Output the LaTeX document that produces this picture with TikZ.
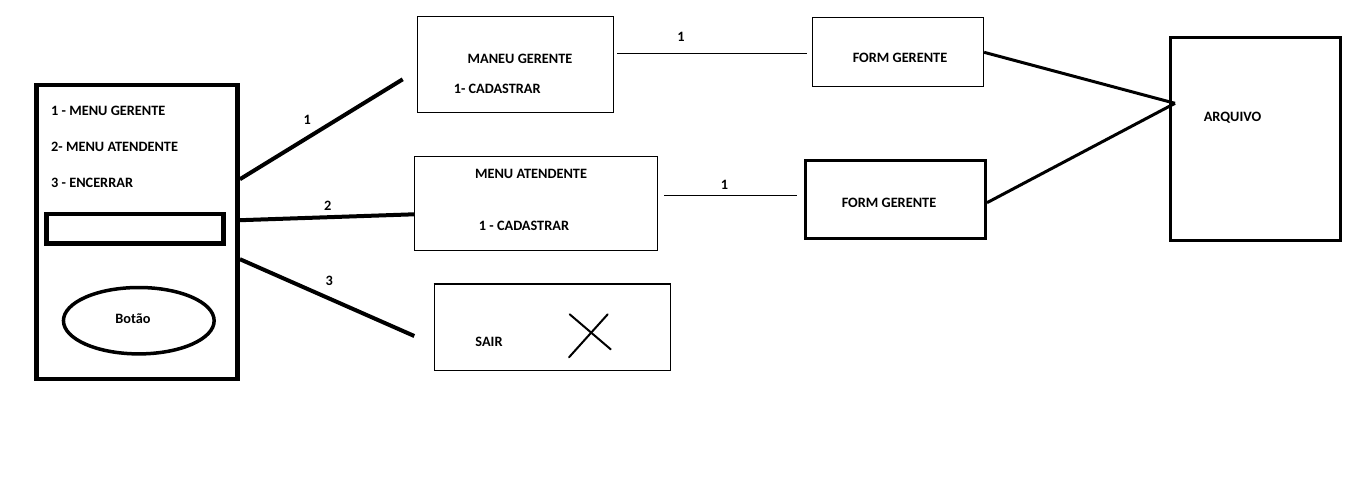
\documentclass[tikz,border=0pt]{standalone}
\usepackage{fontspec}
\setmainfont{Carlito}
\usetikzlibrary{shapes.geometric, positioning}

\begin{document}
\begin{tikzpicture}[x=1pt, y=-1pt,
    txt/.style={font=\fontsize{14.3}{16}\selectfont\bfseries, inner sep=0pt},
    thinbox/.style={draw, line width=1pt, inner sep=0pt},
    thickbox/.style={draw, line width=3pt, inner sep=0pt},
    heavybox/.style={draw, line width=4.5pt, inner sep=0pt},
    heavylink/.style={line width=4pt},
    link/.style={line width=3pt},
    thinlink/.style={line width=1pt}]

        % --- canvas ---
        \path[fill=white, use as bounding box] (0,0) rectangle (1346,490);

        % --- LEFT SIDE: THE SCREEN ---
        \node[heavybox, minimum width=201pt, minimum height=294pt] (tela) at (137.2,232.2) {};
        \node[txt, anchor=base west] (op1) at (51,115.5) {1 - MENU GERENTE};
        \node[txt, anchor=base west] (op2) at (51,151.3) {2- MENU ATENDENTE};
        \node[txt, anchor=base west] (op3) at (51,187) {3 - ENCERRAR};
        \node[heavybox, minimum width=177pt, minimum height=29.7pt] (entrada) at (135,228.6) {};
        \node[ellipse, draw, line width=3.5pt, minimum width=150.7pt, minimum height=66.4pt, inner sep=0pt] (botao) at (138.8,320.7) {};
        \node[txt, anchor=base] (botaotxt) at (133,323.3) {Botão};

        % --- MIDDLE: THE MENUS ---
        \node[thinbox, minimum width=196pt, minimum height=96pt] (gerente) at (515,64) {};
        \node[txt, anchor=base] (gerentetit) at (520,63.3) {MANEU GERENTE};
        \node[txt, anchor=base west] (gerentecad) at (453.6,93.3) {1- CADASTRAR};

        \node[thinbox, minimum width=242.5pt, minimum height=94pt] (atende) at (535.8,203) {};
        \node[txt, anchor=base] (atendetit) at (531,178.3) {MENU ATENDENTE};
        \node[txt, anchor=base] (atendecad) at (524,230) {1 - CADASTRAR};

        \node[thinbox, minimum width=236.7pt, minimum height=85.7pt] (sair) at (552.4,327.2) {};
        \draw[line width=2.7pt] (sair.north west) -- (sair.north east);
        \node[txt, anchor=base] (sairtxt) at (489,346) {SAIR};
        \draw[line width=2pt, line cap=round] (569.7,314.3) -- (610.7,349.3);
        \draw[line width=2pt, line cap=round] (607.7,314.3) -- (569,357.3);

        % --- FORMS ---
        \node[thinbox, minimum width=171.6pt, minimum height=68.7pt] (formger) at (897.8,52.3) {};
        \node[txt, anchor=base] (formgertxt) at (900,62.3) {FORM GERENTE};
        \node[thickbox, minimum width=179.8pt, minimum height=78.3pt] (formate) at (895.6,199.2) {};
        \node[txt, anchor=base] (formatetxt) at (889,207.3) {FORM GERENTE};

        % --- RIGHT SIDE: THE FILE ---
        \node[thickbox, minimum width=170.7pt, minimum height=203.4pt] (arquivo) at (1255.6,139) {};
        \node[txt, anchor=base] (arquivotxt) at (1232.5,121.7) {ARQUIVO};

        % free ends
        \coordinate (fim1) at (402.7,79.3);
        \coordinate (fim3) at (414.3,336);
        \coordinate (gerA) at (617,53);
        \coordinate (gerB) at (807,53);
        \coordinate (ateA) at (664,195);
        \coordinate (ateB) at (797,195);
        \coordinate (entra) at (1175,103.3);

        % Draw connections
        \draw[heavylink] ([yshift=53pt]tela.east) -- (fim1);
        \draw[heavylink] ([yshift=12pt]tela.east) -- ([yshift=-11.3pt]atende.west);
        \draw[heavylink] ([yshift=-27pt]tela.east) -- (fim3);
        \draw[thinlink] (gerA) -- (gerB);
        \draw[thinlink] (ateA) -- (ateB);
        \draw[link] (formger.east) -- (entra);
        \draw[link] ([yshift=-3.5pt]formate.east) -- (entra);

        % Labels on the links
        \node[txt, anchor=base] (n1) at (307.3,124.3) {1};
        \node[txt, anchor=base] (n2) at (327.7,210.7) {2};
        \node[txt, anchor=base] (n3) at (329.3,285) {3};
        \node[txt, anchor=base] (n4) at (681,41.7) {1};
        \node[txt, anchor=base] (n5) at (724.5,189.3) {1};
    \end{tikzpicture}
\end{document}
